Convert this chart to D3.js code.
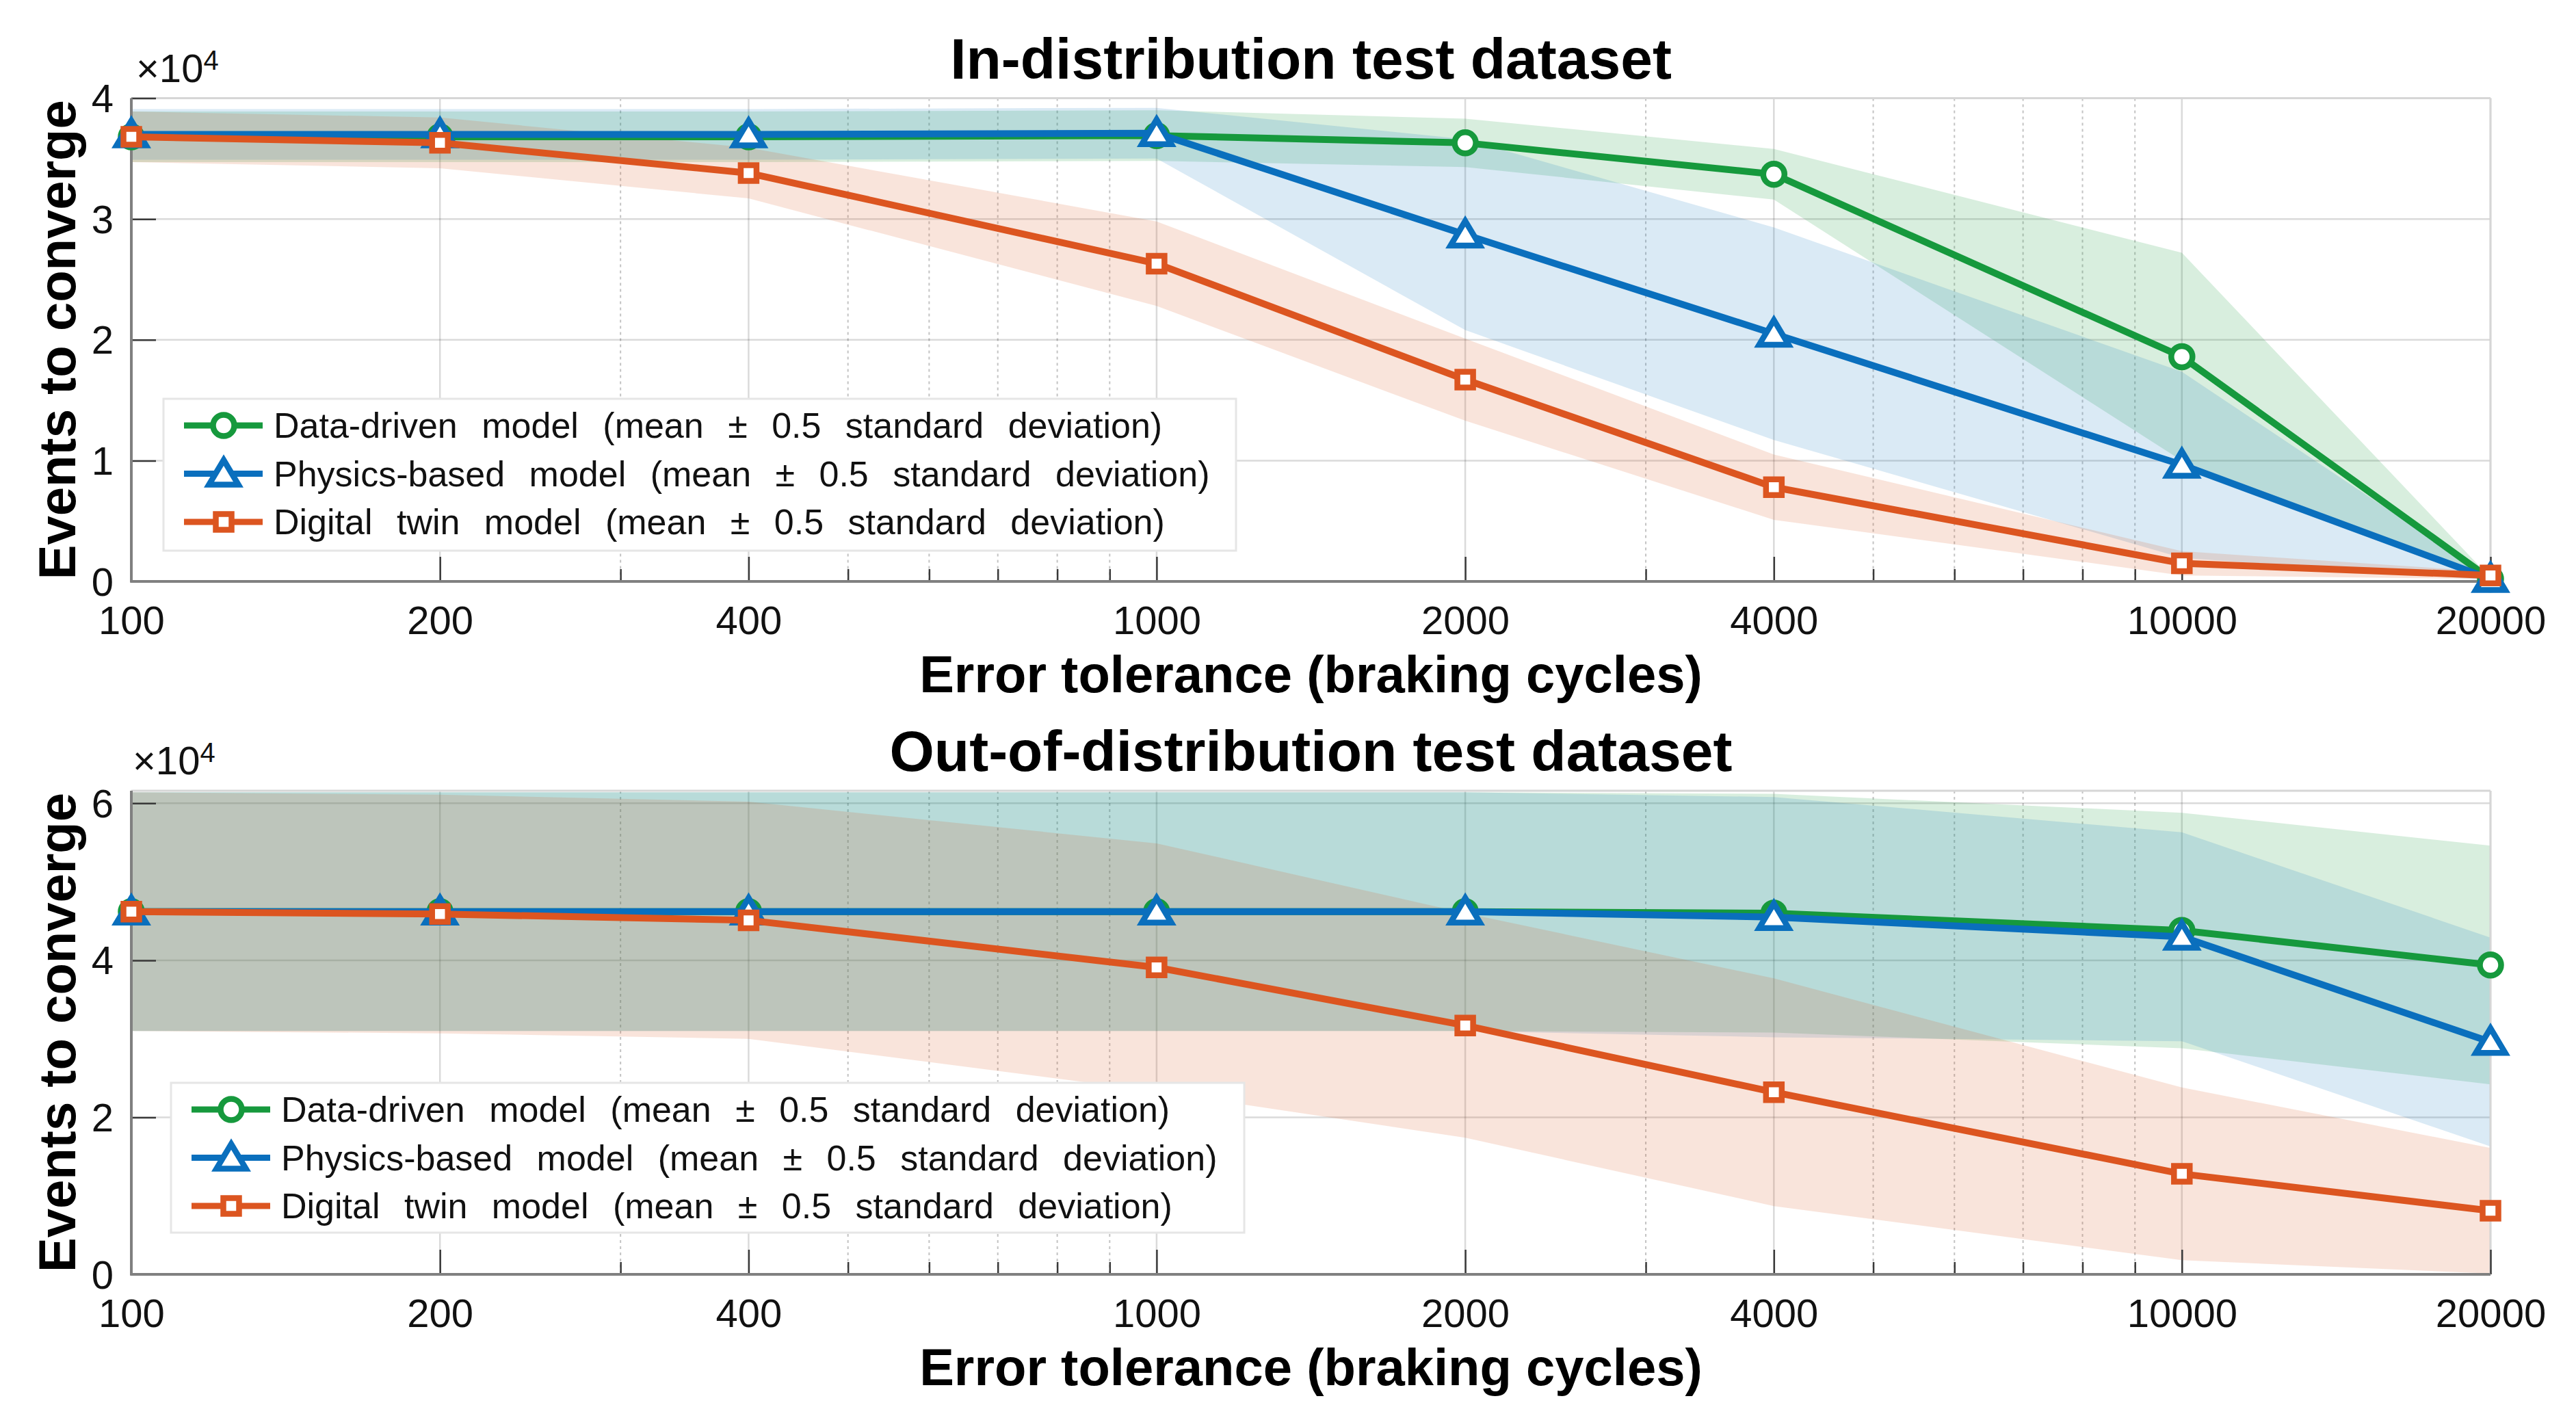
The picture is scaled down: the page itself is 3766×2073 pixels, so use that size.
<!DOCTYPE html>
<html lang="en">
<head>
  <meta charset="UTF-8">
  <title>Events to converge</title>
  <script src="https://cdn.jsdelivr.net/npm/d3@7"></script>
  <style>
    body { margin: 0; background: #fff; }
    text { font-family: "Liberation Sans", Arial, Helvetica, sans-serif; fill: #000; }
    .title { font-size: 84px; font-weight: 700; }
    .axisLabel { font-size: 76px; font-weight: 700; }
    .tick text { font-size: 58px; fill: #111; }
    .expo { font-size: 58px; fill: #111; }
    .legendText { font-size: 52px; word-spacing: 21px; fill: #111; }
  </style>
</head>
<body>
<svg id="chart" width="3766" height="2073"></svg>
<script>
  // x: error tolerance (braking cycles), shared by both panels
  var xTicks = [100, 200, 400, 1000, 2000, 4000, 10000, 20000];
  var xMinor = [300, 500, 600, 700, 800, 900, 3000, 5000, 6000, 7000, 8000, 9000];

  var seriesNames = [
    "Data-driven model (mean ± 0.5 standard deviation)",
    "Physics-based model (mean ± 0.5 standard deviation)",
    "Digital twin model (mean ± 0.5 standard deviation)"
  ];
  var seriesColors = ["#16993d", "#0a6fbd", "#dc5520"];
  var seriesMarkers = ["circle", "triangle", "square"];

  // in-distribution: mean and half band (0.5 std)
  var idDataMean = [36800, 36800, 36800, 36900, 36300, 33700, 18600, 200];
  var idDataHalf = [2100, 2100, 2100, 2100, 2000, 2100, 8600, 100];
  var idPhysMean = [37000, 37000, 37000, 37100, 28700, 20500, 9650, 200];
  var idPhysHalf = [2100, 2100, 2100, 2100, 7900, 8800, 7700, 100];
  var idTwinMean = [36800, 36300, 33800, 26300, 16700, 7800, 1500, 500];
  var idTwinHalf = [2100, 2100, 2100, 3500, 3400, 2700, 1000, 300];
  var idYTicks = [0, 10000, 20000, 30000, 40000];

  // out-of-distribution
  var oodDataMean = [46200, 46200, 46200, 46200, 46200, 46000, 43800, 39400];
  var oodDataHalf = [15200, 15200, 15200, 15200, 15200, 15200, 15000, 15200];
  var oodPhysMean = [46200, 46200, 46200, 46200, 46200, 45500, 43000, 29600];
  var oodPhysHalf = [15200, 15200, 15200, 15200, 15200, 15300, 13300, 13300];
  var oodTwinMean = [46200, 45900, 45100, 39100, 31700, 23200, 12800, 8100];
  var oodTwinHalf = [15200, 15200, 15100, 15800, 14300, 14500, 11000, 8000];
  var oodYTicks = [0, 20000, 40000, 60000];

  var svg = d3.select('#chart');
  var left = 192, right = 3641;
  var x = d3.scaleLog().domain([100, 20000]).range([left, right]);
  var bandAlpha = [0.17, 0.15, 0.16];

  var panels = [
    {
      title: "In-distribution test dataset",
      top: 143.5, bottom: 850, yMax: 40000, yTicks: idYTicks,
      means: [idDataMean, idPhysMean, idTwinMean],
      halfs: [idDataHalf, idPhysHalf, idTwinHalf],
      legend: {x: 239, y: 583, w: 1568, h: 222}
    },
    {
      title: "Out-of-distribution test dataset",
      top: 1156, bottom: 1863, yMax: 61600, yTicks: oodYTicks,
      means: [oodDataMean, oodPhysMean, oodTwinMean],
      halfs: [oodDataHalf, oodPhysHalf, oodTwinHalf],
      legend: {x: 250, y: 1583, w: 1569, h: 219}
    }
  ];

  function markerPath(type) {
    if (type === 'triangle') return "M0,-20L21.5,16L-21.5,16Z";
    if (type === 'square') return "M-11.5,-11.5H11.5V11.5H-11.5Z";
    return d3.arc()({innerRadius: 0, outerRadius: 15.5, startAngle: 0, endAngle: 2 * Math.PI});
  }

  function drawMarkers(g, pts, type, color) {
    g.selectAll(null)
      .data(pts)
      .enter().append('path')
      .attr('d', markerPath(type))
      .attr('transform', d => `translate(${d[0]},${d[1]})`)
      .attr('fill', '#fff')
      .attr('stroke', color)
      .attr('stroke-width', 8.5)
      .attr('stroke-linejoin', 'miter');
  }

  panels.forEach(function(p, pi) {
    var y = d3.scaleLinear().domain([0, p.yMax]).range([p.bottom, p.top]);
    var g = svg.append('g');
    var cx = (left + right) / 2;

    // grid
    g.append('g').selectAll('line').data(xMinor).enter().append('line')
      .attr('x1', d => x(d)).attr('x2', d => x(d))
      .attr('y1', p.top).attr('y2', p.bottom)
      .attr('stroke', '#262626').attr('stroke-opacity', 0.28)
      .attr('stroke-width', 2).attr('stroke-dasharray', '4,5');
    g.append('g').selectAll('line').data(xTicks).enter().append('line')
      .attr('x1', d => x(d)).attr('x2', d => x(d))
      .attr('y1', p.top).attr('y2', p.bottom)
      .attr('stroke', '#262626').attr('stroke-opacity', 0.17).attr('stroke-width', 2.5);
    g.append('g').selectAll('line').data(p.yTicks).enter().append('line')
      .attr('x1', left).attr('x2', right)
      .attr('y1', d => y(d)).attr('y2', d => y(d))
      .attr('stroke', '#262626').attr('stroke-opacity', 0.17).attr('stroke-width', 2.5);

    // bands
    var area = d3.area()
      .x(d => x(d.t))
      .y0(d => y(d.m - d.h))
      .y1(d => y(d.m + d.h));
    p.means.forEach(function(m, si) {
      var rows = xTicks.map((t, i) => ({t: t, m: m[i], h: p.halfs[si][i]}));
      g.append('path').datum(rows)
        .attr('d', area)
        .attr('fill', seriesColors[si])
        .attr('fill-opacity', bandAlpha[si]);
    });

    // box
    g.append('line').attr('x1', left).attr('x2', right).attr('y1', p.top).attr('y2', p.top)
      .attr('stroke', '#d6d6d6').attr('stroke-width', 3);
    g.append('line').attr('x1', right).attr('x2', right).attr('y1', p.top).attr('y2', p.bottom)
      .attr('stroke', '#d6d6d6').attr('stroke-width', 3);

    // axes
    var xAxis = d3.axisBottom(x).tickValues(xTicks).tickFormat(d3.format('d'))
      .tickSize(-36).tickPadding(36);
    var xMinorAxis = d3.axisBottom(x).tickValues(xMinor).tickFormat('').tickSize(-18);
    var yAxis = d3.axisLeft(y).tickValues(p.yTicks).tickFormat(d => d / 10000)
      .tickSize(-36).tickPadding(26);

    var gx = g.append('g').attr('class', 'axis')
      .attr('transform', `translate(0,${p.bottom})`).call(xAxis);
    var gxm = g.append('g').attr('class', 'axis')
      .attr('transform', `translate(0,${p.bottom})`).call(xMinorAxis);
    var gy = g.append('g').attr('class', 'axis')
      .attr('transform', `translate(${left},0)`).call(yAxis);
    [gx, gxm, gy].forEach(a => {
      a.select('.domain').remove();
      a.selectAll('.tick line').attr('stroke', '#3a3a3a').attr('stroke-width', 2.5);
      a.selectAll('.tick text').attr('font-family', null).attr('font-size', null);
    });
    gx.selectAll('.tick text').attr('dy', null).attr('y', 77);
    gy.selectAll('.tick text').attr('dy', null).attr('y', 20);

    g.append('line').attr('x1', left).attr('x2', left).attr('y1', p.top).attr('y2', p.bottom + 1.5)
      .attr('stroke', '#808080').attr('stroke-width', 4);
    g.append('line').attr('x1', left - 1.5).attr('x2', right).attr('y1', p.bottom).attr('y2', p.bottom)
      .attr('stroke', '#808080').attr('stroke-width', 4);

    // lines and markers
    var line = d3.line().x(d => x(d[0])).y(d => y(d[1]));
    p.means.forEach(function(m, si) {
      var pts = xTicks.map((t, i) => [t, m[i]]);
      g.append('path').datum(pts)
        .attr('d', line)
        .attr('fill', 'none')
        .attr('stroke', seriesColors[si])
        .attr('stroke-width', 10)
        .attr('stroke-linejoin', 'round');
      drawMarkers(g, pts.map(d => [x(d[0]), y(d[1])]), seriesMarkers[si], seriesColors[si]);
    });

    // texts
    g.append('text').attr('class', 'title')
      .attr('x', cx).attr('y', p.top - 29)
      .attr('text-anchor', 'middle').text(p.title);
    g.append('text').attr('class', 'axisLabel')
      .attr('x', cx).attr('y', p.bottom + 162)
      .attr('text-anchor', 'middle').text("Error tolerance (braking cycles)");
    g.append('text').attr('class', 'axisLabel')
      .attr('transform', `translate(110,${(p.top + p.bottom) / 2}) rotate(-90)`)
      .attr('text-anchor', 'middle').text("Events to converge");
    var ex = g.append('text').attr('class', 'expo')
      .attr('x', pi === 0 ? 199 : 194).attr('y', p.top - 24);
    ex.append('tspan').text('×10');
    ex.append('tspan').attr('dy', -18).attr('font-size', 40).text('4');

    // legend
    var L = p.legend;
    var lg = g.append('g').attr('transform', `translate(${L.x},${L.y})`);
    lg.append('rect').attr('width', L.w).attr('height', L.h)
      .attr('fill', '#fff').attr('stroke', '#e6e6e6').attr('stroke-width', 3);
    var rowY = [39, 109.5, 180];
    seriesNames.forEach(function(name, si) {
      var ry = rowY[si];
      lg.append('line').attr('x1', 30).attr('x2', 145).attr('y1', ry).attr('y2', ry)
        .attr('stroke', seriesColors[si]).attr('stroke-width', 9);
      drawMarkers(lg, [[88, ry]], seriesMarkers[si], seriesColors[si]);
      lg.append('text').attr('class', 'legendText')
        .attr('x', 161).attr('y', ry + 18).text(name);
    });
  });
</script>
</body>
</html>
